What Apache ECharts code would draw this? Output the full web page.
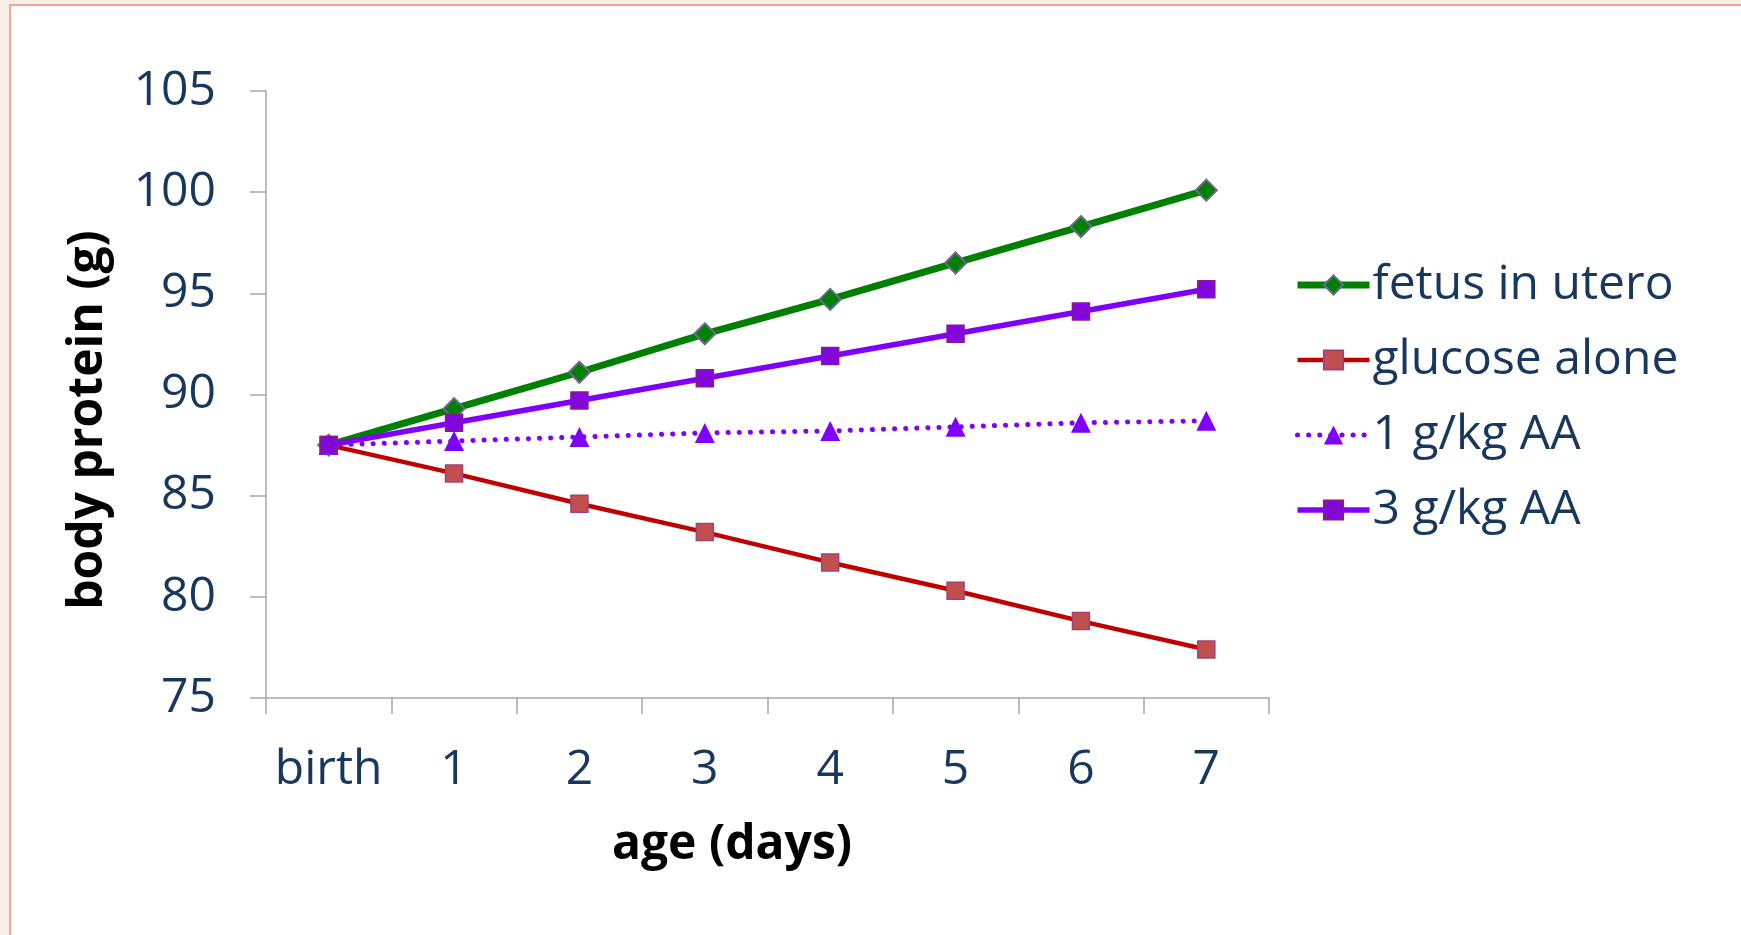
<!DOCTYPE html>
<html>
<head>
<meta charset="utf-8">
<script src="https://cdn.jsdelivr.net/npm/echarts@6/dist/echarts.min.js"></script>
<style>
  html, body { margin: 0; padding: 0; width: 1741px; height: 935px; overflow: hidden; background: #f8efe9; }
  #frame { position: absolute; left: 9px; top: 4px; width: 2000px; height: 2000px; background: #ffffff; border-left: 2px solid #f2a898; border-top: 2px solid #f2a898; }
  #chart { position: absolute; left: 0; top: 0; width: 1741px; height: 935px; }
</style>
</head>
<body>
<div id="frame"></div>
<div id="chart"></div>
<script>
const categories = ['birth', '1', '2', '3', '4', '5', '6', '7'];
const fetusInUtero = [87.5, 89.3, 91.1, 93.0, 94.7, 96.5, 98.3, 100.1];
const glucoseAlone = [87.5, 86.1, 84.6, 83.2, 81.7, 80.3, 78.8, 77.4];
const aa1 = [87.5, 87.7, 87.9, 88.1, 88.2, 88.4, 88.6, 88.7];
const aa3 = [87.5, 88.6, 89.7, 90.8, 91.9, 93.0, 94.1, 95.2];
const seriesNames = ['fetus in utero', 'glucose alone', '1 g/kg AA', '3 g/kg AA'];
const yMin = 75, yMax = 105, yStep = 5;

const FONT = '"Open Sans", "Noto Sans", sans-serif';
const LABEL = '#17375e';
const AXIS = '#a6a6a6';

const styles = [
  { line: { color: '#008000', width: 7 }, item: { color: '#008000', borderColor: '#6b6894', borderWidth: 2 }, symbol: 'diamond', size: 21 },
  { line: { color: '#c00000', width: 4.5 }, item: { color: '#c0504d', borderColor: '#a2407a', borderWidth: 1.5 }, symbol: 'rect', size: 17 },
  { line: { color: '#8000ff', width: 5, type: [0.1, 11], cap: 'round' }, item: { color: '#8000ff', borderWidth: 0 }, symbol: 'triangle', size: 20 },
  { line: { color: '#8000ff', width: 5.5 }, item: { color: '#8000ff', borderColor: '#8a1a8a', borderWidth: 1.5 }, symbol: 'path://M0,0L10,0L10,10L0,10Z M0,0L10,10 M10,0L0,10', size: 17 }
];
const values = [fetusInUtero, glucoseAlone, aa1, aa3];
const zs = [4, 3, 2, 5];

const chart = echarts.init(document.getElementById('chart'), null, { renderer: 'canvas' });
chart.setOption({
  backgroundColor: 'transparent',
  animation: false,
  grid: { left: 266, top: 91, right: 472, bottom: 237 },
  legend: {
    orient: 'vertical',
    left: 1289,
    top: 254,
    itemWidth: 72,
    itemHeight: 24,
    itemGap: 23,
    data: seriesNames.map((n, i) => ({ name: n, lineStyle: Object.assign({}, styles[i].line) })),
    textStyle: { fontFamily: FONT, fontSize: 48, color: LABEL, lineHeight: 52, padding: [0, 0, 0, -2] }
  },
  xAxis: {
    type: 'category',
    data: categories,
    boundaryGap: true,
    axisLine: { lineStyle: { color: AXIS, width: 1.5 } },
    axisTick: { show: true, interval: 0, length: 16, lineStyle: { color: AXIS, width: 1.5 } },
    axisLabel: { interval: 0, margin: 47, fontFamily: FONT, fontSize: 48, color: LABEL, lineHeight: 50 },
    splitLine: { show: false }
  },
  yAxis: {
    type: 'value',
    min: yMin, max: yMax, interval: yStep,
    axisLine: { show: true, lineStyle: { color: AXIS, width: 1.5 } },
    axisTick: { show: true, length: 16, lineStyle: { color: AXIS, width: 1.5 } },
    axisLabel: { margin: 50, fontFamily: FONT, fontSize: 48, color: LABEL },
    splitLine: { show: false }
  },
  graphic: [
    { type: 'text', x: 732, y: 845, style: { text: 'age (days)', font: 'bold 48px ' + FONT, fill: '#000000', align: 'center', verticalAlign: 'middle' } },
    { type: 'text', x: 88, y: 420, rotation: Math.PI / 2, style: { text: 'body protein (g)', font: 'bold 48px ' + FONT, fill: '#000000', align: 'center', verticalAlign: 'middle' } }
  ],
  series: seriesNames.map((n, i) => ({
    name: n, type: 'line', data: values[i], z: zs[i],
    symbol: styles[i].symbol, symbolSize: styles[i].size,
    lineStyle: styles[i].line,
    itemStyle: styles[i].item
  }))
});
</script>
</body>
</html>
